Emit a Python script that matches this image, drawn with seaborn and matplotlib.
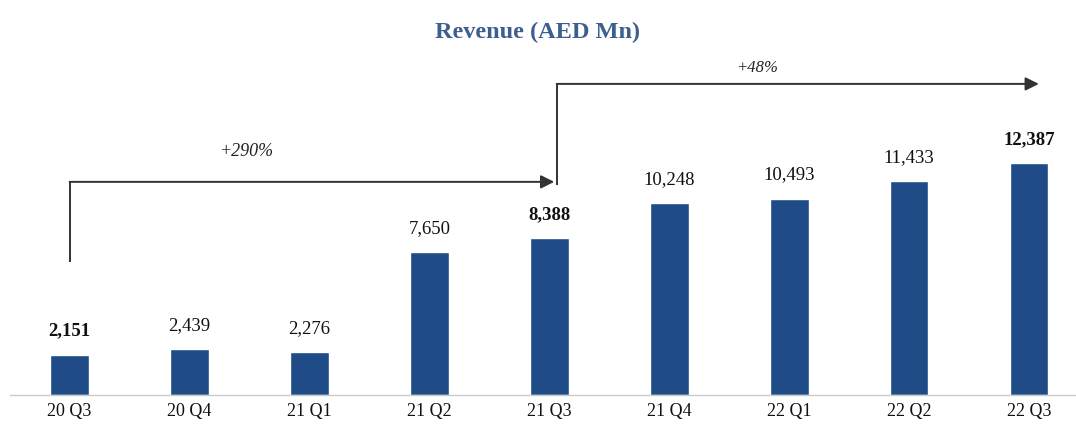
import matplotlib
matplotlib.use('Agg')
import matplotlib.pyplot as plt
import seaborn as sns
import pandas as pd

# Данные
quarters = ['20 Q3', '20 Q4', '21 Q1', '21 Q2', '21 Q3', '21 Q4', '22 Q1', '22 Q2', '22 Q3']
revenue = [2151, 2439, 2276, 7650, 8388, 10248, 10493, 11433, 12387]
bold_labels = ['20 Q3', '21 Q3', '22 Q3']
growth_labels = ['+290%', '+48%']

BAR_COLOR = '#1f4b87'
TITLE_COLOR = '#3d5f8f'

sns.set_theme(style='white')
plt.rcParams['font.family'] = ['Liberation Serif', 'DejaVu Serif']

df = pd.DataFrame({'quarter': quarters, 'revenue': revenue})

fig = plt.figure(figsize=(10.76, 4.3), dpi=100)
ax = fig.add_axes([0.009, 0.0814, 0.991, 0.80])

sns.barplot(data=df, x='quarter', y='revenue', color=BAR_COLOR, width=0.32,
            saturation=1, ax=ax)

ax.set_xlim(-0.50, 8.39)
ax.set_ylim(0, 18400)

# Подписи значений
for i, (q, v) in enumerate(zip(quarters, revenue)):
    ax.annotate(f"{v:,}", (i, v), xytext=(0, 11), textcoords='offset points',
                ha='center', va='bottom', fontsize=13.5,
                fontweight='bold' if q in bold_labels else 'normal', color='#111111')

# Стрелки роста
y1 = 11400
y2 = 16640
ax.plot([0, 0], [7100, y1], color='#333333', lw=1.4, solid_capstyle='butt')
ax.annotate('', xy=(4.04, y1), xytext=(0, y1),
            arrowprops=dict(arrowstyle='-|>', color='#333333', lw=1.4,
                            mutation_scale=20, shrinkA=0, shrinkB=0))
ax.text(1.48, y1 + 1600, growth_labels[0], ha='center', va='center',
        fontsize=13, style='italic', color='#222222')

ax.plot([4.06, 4.06], [y1 - 150, y2], color='#333333', lw=1.4, solid_capstyle='butt')
ax.annotate('', xy=(8.08, y2), xytext=(4.06, y2),
            arrowprops=dict(arrowstyle='-|>', color='#333333', lw=1.4,
                            mutation_scale=20, shrinkA=0, shrinkB=0))
ax.text(5.73, y2 + 850, growth_labels[1], ha='center', va='center',
        fontsize=12, style='italic', color='#222222')

fig.suptitle('Revenue (AED Mn)', y=0.95, fontsize=17.5, fontweight='bold', color=TITLE_COLOR)

ax.set_xlabel('')
ax.set_ylabel('')
ax.set_yticks([])
ax.tick_params(axis='x', length=0, labelsize=13, pad=6, labelcolor='#111111')
for s in ['top', 'right', 'left']:
    ax.spines[s].set_visible(False)
ax.spines['bottom'].set_color('#cccccc')
ax.spines['bottom'].set_linewidth(1)

fig.savefig('out.png', dpi=100)
